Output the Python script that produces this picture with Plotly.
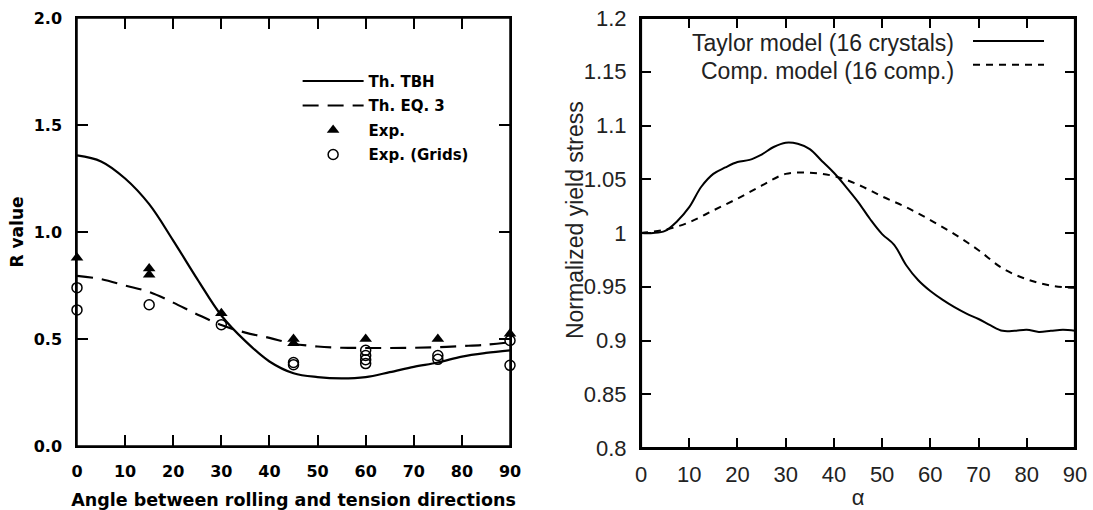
import plotly.graph_objects as go

# left panel: R value vs angle
tbh_angle = [0, 5, 10, 15, 20, 25, 30, 35, 40, 45, 50, 55, 60, 65, 70, 75, 80, 85, 90]
tbh_r = [1.358, 1.33, 1.25, 1.13, 0.96, 0.78, 0.61, 0.49, 0.395, 0.34, 0.322, 0.316, 0.322,
         0.345, 0.37, 0.39, 0.418, 0.435, 0.447]
eq3_angle = [0, 5, 10, 15, 20, 25, 30, 35, 40, 45, 50, 55, 60, 65, 70, 75, 80, 85, 90]
eq3_r = [0.795, 0.78, 0.75, 0.72, 0.67, 0.615, 0.565, 0.53, 0.505, 0.478, 0.465, 0.459, 0.458,
         0.458, 0.459, 0.462, 0.467, 0.473, 0.485]
exp_angle = [0, 15, 15, 30, 45, 45, 60, 75, 90]
exp_r = [0.88, 0.83, 0.80, 0.62, 0.50, 0.48, 0.50, 0.50, 0.525]
grid_angle = [0, 0, 15, 30, 45, 45, 60, 60, 60, 60, 75, 75, 90, 90]
grid_r = [0.74, 0.636, 0.66, 0.567, 0.39, 0.38, 0.447, 0.423, 0.403, 0.385, 0.423, 0.405, 0.493, 0.377]

# right panel: normalized yield stress vs alpha
taylor_alpha = [0, 2.5, 5, 7.5, 10, 12.5, 15, 17.5, 20, 22.5, 25, 27.5, 30, 32.5, 35, 37.5, 40,
                42.5, 45, 47.5, 50, 52.5, 55, 57.5, 60, 62.5, 65, 67.5, 70, 72.5, 75, 77.5, 80,
                82.5, 85, 87.5, 90]
taylor_ys = [1.0, 1.0, 1.002, 1.011, 1.024, 1.043, 1.055, 1.061, 1.066, 1.068, 1.073, 1.080,
             1.084, 1.083, 1.078, 1.067, 1.056, 1.043, 1.029, 1.013, 0.999, 0.989, 0.970, 0.956,
             0.946, 0.938, 0.931, 0.925, 0.920, 0.914, 0.909, 0.909, 0.910, 0.908, 0.909, 0.910,
             0.909]
comp_alpha = [0, 5, 10, 15, 20, 25, 30, 35, 40, 45, 50, 55, 60, 65, 70, 75, 80, 85, 90]
comp_ys = [1.0, 1.003, 1.010, 1.021, 1.032, 1.044, 1.055, 1.056, 1.053, 1.045, 1.034, 1.024,
           1.012, 0.999, 0.984, 0.967, 0.957, 0.951, 0.949]

yticks_right = [0.8, 0.85, 0.9, 0.95, 1.0, 1.05, 1.1, 1.15, 1.2]
yticklabels_right = ["0.8", "0.85", "0.9", "0.95", "1", "1.05", "1.1", "1.15", "1.2"]

bold = "DejaVu Sans"
plain = "Liberation Sans"

left_dom_x, left_dom_y = [0.07045, 0.46661], [0.12549, 0.9647]
right_dom_x, right_dom_y = [0.58646, 0.98353], [0.12157, 0.9647]

fig = go.Figure()

fig.add_trace(go.Scatter(x=tbh_angle, y=tbh_r, mode="lines", name="Th. TBH",
                         line=dict(color="black", width=2.2, shape="spline"),
                         legendgroup="a", xaxis="x", yaxis="y"))
fig.add_trace(go.Scatter(x=eq3_angle, y=eq3_r, mode="lines", name="Th. EQ. 3",
                         line=dict(color="black", width=2.2, shape="spline", dash="16px,9px"),
                         legendgroup="b", xaxis="x", yaxis="y"))
fig.add_trace(go.Scatter(x=exp_angle, y=exp_r, mode="markers", name="Exp.",
                         marker=dict(symbol="triangle-up", size=11, color="black"),
                         legendgroup="c", cliponaxis=False, xaxis="x", yaxis="y"))
fig.add_trace(go.Scatter(x=grid_angle, y=grid_r, mode="markers", name="Exp. (Grids)",
                         marker=dict(symbol="circle-open", size=10, color="black",
                                     line=dict(width=1.5)),
                         legendgroup="d", cliponaxis=False, xaxis="x", yaxis="y"))

fig.add_trace(go.Scatter(x=taylor_alpha, y=taylor_ys, mode="lines", name="Taylor model (16 crystals)",
                         line=dict(color="black", width=2, shape="spline"),
                         xaxis="x2", yaxis="y2", showlegend=False))
fig.add_trace(go.Scatter(x=comp_alpha, y=comp_ys, mode="lines", name="Comp. model (16 comp.)",
                         line=dict(color="black", width=2, shape="spline", dash="7px,6px"),
                         xaxis="x2", yaxis="y2", showlegend=False))

left_ax = dict(showline=True, linecolor="black", linewidth=1.5, mirror="ticks",
               ticks="inside", ticklen=11, tickwidth=1.5, tickcolor="black",
               showgrid=False, zeroline=False, ticklabeloverflow="allow",
               tickfont=dict(family=bold, size=16, color="black", weight="bold"))
right_ax = dict(showline=True, linecolor="black", linewidth=2.2, mirror="ticks",
                ticks="inside", ticklen=10, tickwidth=2, tickcolor="black",
                showgrid=False, zeroline=False, ticklabeloverflow="allow",
                tickfont=dict(family=plain, size=22, color="#222"))

fig.update_layout(
    width=1093, height=510,
    margin=dict(l=0, r=0, t=0, b=0, autoexpand=False),
    paper_bgcolor="white", plot_bgcolor="white",
    xaxis=dict(left_ax, domain=left_dom_x, range=[0, 90], dtick=10,
               ticklabelstandoff=10,
               title=dict(text="Angle between rolling and tension directions", standoff=14,
                          font=dict(family=bold, size=17.5, color="black", weight="bold"))),
    yaxis=dict(left_ax, domain=left_dom_y, range=[0, 2], dtick=0.5, tickformat=".1f",
               ticklabelstandoff=10,
               title=dict(text="R value", standoff=6,
                          font=dict(family=bold, size=17, color="black", weight="bold"))),
    xaxis2=dict(right_ax, domain=right_dom_x, range=[0, 90], dtick=10,
                anchor="y2", ticklabelstandoff=6,
                title=dict(text="α", standoff=11,
                           font=dict(family=plain, size=22, color="#222"))),
    yaxis2=dict(right_ax, domain=right_dom_y, range=[0.8, 1.2],
                tickvals=yticks_right, ticktext=yticklabels_right,
                anchor="x2", ticklabelstandoff=8),
    # top axes, only to carry the inside ticks along the top
    xaxis3=dict(overlaying="x", anchor="y", side="top", range=[0, 90], dtick=10,
                showline=True, linecolor="black", linewidth=1.5, ticks="inside", ticklen=11,
                tickwidth=1.5, tickcolor="black", showticklabels=False, showgrid=False,
                zeroline=False),
    xaxis4=dict(overlaying="x2", anchor="y2", side="top", range=[0, 90], dtick=10,
                showline=True, linecolor="black", linewidth=2.2, ticks="inside", ticklen=10,
                tickwidth=2, tickcolor="black", showticklabels=False, showgrid=False,
                zeroline=False),
    legend=dict(x=0.2723, y=0.873, xanchor="left", yanchor="top", tracegroupgap=2,
                bgcolor="rgba(0,0,0,0)", itemwidth=61,
                font=dict(family=bold, size=15, color="black", weight="bold")),
)

# invisible traces so the top axes get drawn
fig.add_trace(go.Scatter(x=[tbh_angle[0]], y=[tbh_r[0]], mode="markers", opacity=0,
                         showlegend=False, hoverinfo="skip", xaxis="x3", yaxis="y"))
fig.add_trace(go.Scatter(x=[comp_alpha[0]], y=[comp_ys[0]], mode="markers", opacity=0,
                         showlegend=False, hoverinfo="skip", xaxis="x4", yaxis="y2"))

# frame boxes around both panels
for dx, dy, lw in [(left_dom_x, left_dom_y, 1.5), (right_dom_x, right_dom_y, 2.2)]:
    fig.add_shape(type="rect", xref="paper", yref="paper", x0=dx[0], x1=dx[1],
                  y0=dy[0], y1=dy[1], line=dict(color="black", width=lw), layer="above")

fig.add_annotation(x=0.5261, y=0.5686, xref="paper", yref="paper", text="Normalized yield stress",
                   textangle=-90, showarrow=False, xanchor="center", yanchor="middle",
                   font=dict(family=plain, size=23, color="#222"))

# right panel legend: text on the left, line sample on the right
legend_rows = [("Taylor model (16 crystals)", "solid", 0.9421, 0.9468),
               ("Comp. model (16 comp.)", "7px,6px", 0.8773, 0.8912)]
for label, dash, ty, ly in legend_rows:
    fig.add_annotation(x=0.726, y=ty, xref="x2 domain", yref="y2 domain", text=label,
                       showarrow=False, xanchor="right", yanchor="middle",
                       font=dict(family=plain, size=23, color="#222"))
    fig.add_shape(type="line", x0=0.765, x1=0.9286, y0=ly, y1=ly,
                  xref="x2 domain", yref="y2 domain",
                  line=dict(color="black", width=2, dash=dash))

# drop the default body margin so the 1093x510 figure fills the window exactly
fig.write_html("out.html", config={"displayModeBar": False},
               post_script="document.body.style.margin='0px';")
